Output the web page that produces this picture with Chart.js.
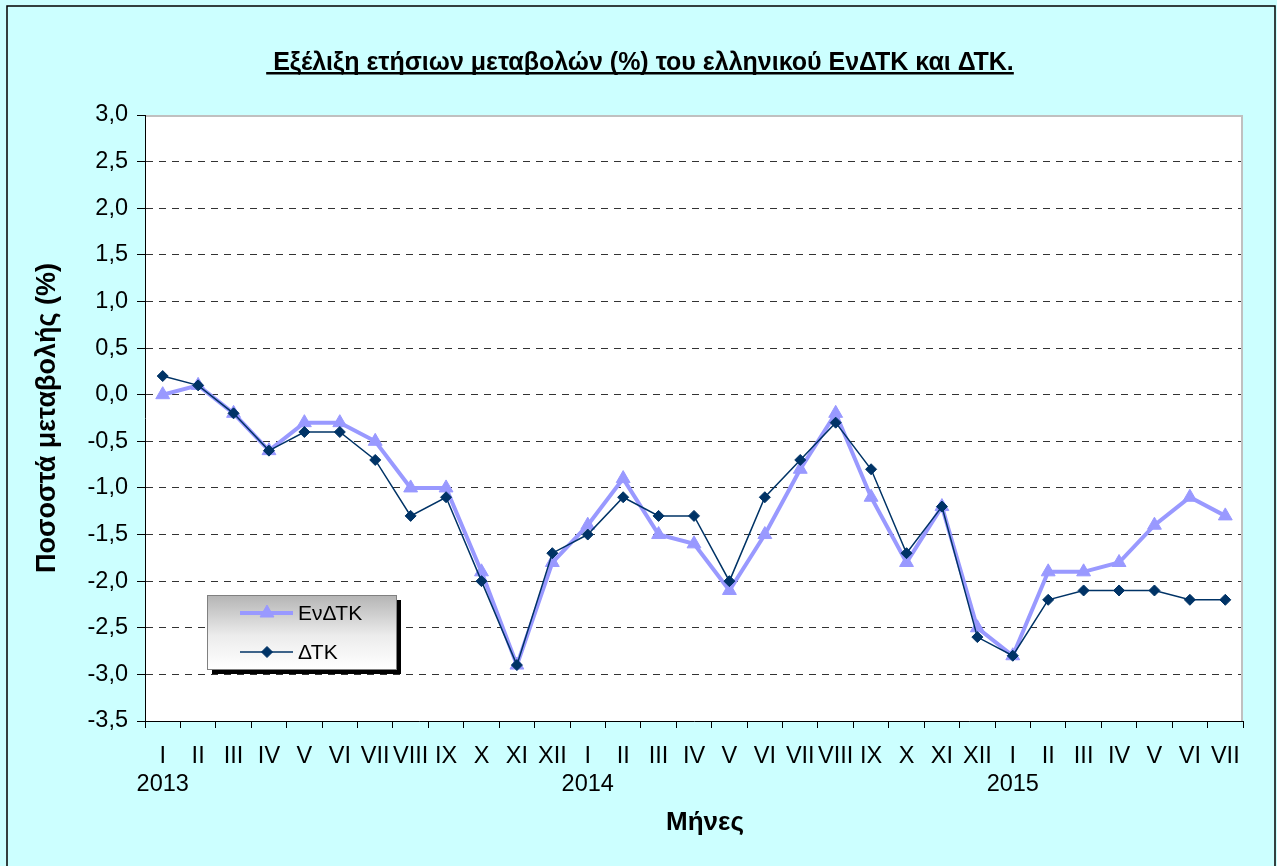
<!DOCTYPE html>
<html>
<head>
<meta charset="utf-8">
<script src="https://cdn.jsdelivr.net/npm/chart.js@4"></script>
<style>
    html, body { margin: 0; padding: 0; background: #ccffff; overflow: hidden; }
    canvas { display: block; }
</style>
</head>
<body>
<canvas id="chart" width="1277" height="866"></canvas>
<script>
// Categories: months I 2013 .. VII 2015
const monthLabels = [
    'I', 'II', 'III', 'IV', 'V', 'VI', 'VII', 'VIII', 'IX', 'X', 'XI', 'XII',
    'I', 'II', 'III', 'IV', 'V', 'VI', 'VII', 'VIII', 'IX', 'X', 'XI', 'XII',
    'I', 'II', 'III', 'IV', 'V', 'VI', 'VII'
];
const yearLabels = ['2013', '2014', '2015'];
const yearStartIndex = [0, 12, 24];

// Annual % change
const hicpValues = [
    0.0, 0.1, -0.2, -0.6, -0.3, -0.3, -0.5, -1.0, -1.0, -1.9, -2.9, -1.8,
    -1.4, -0.9, -1.5, -1.6, -2.1, -1.5, -0.8, -0.2, -1.1, -1.8, -1.2, -2.5,
    -2.8, -1.9, -1.9, -1.8, -1.4, -1.1, -1.3
];
const cpiValues = [
    0.2, 0.1, -0.2, -0.6, -0.4, -0.4, -0.7, -1.3, -1.1, -2.0, -2.9, -1.7,
    -1.5, -1.1, -1.3, -1.3, -2.0, -1.1, -0.7, -0.3, -0.8, -1.7, -1.2, -2.6,
    -2.8, -2.2, -2.1, -2.1, -2.1, -2.2, -2.2
];

const yMin = -3.5;
const yMax = 3.0;
const yStep = 0.5;

const FONT = '"Liberation Sans", Arial, sans-serif';

const labels = monthLabels.map(function (m, i) {
    var k = yearStartIndex.indexOf(i);
    return k >= 0 ? [m, yearLabels[k]] : m;
});

function fmt(v) {
    var r = Math.round(v * 10) / 10;
    if (r === 0) r = 0;
    return r.toFixed(1).replace('.', ',');
}

// Background, outer frame, white plot area, titles
const framePlugin = {
    id: 'frame',
    beforeDraw: function (chart) {
        const ctx = chart.ctx;
        const a = chart.chartArea;
        ctx.save();
        ctx.fillStyle = '#ccffff';
        ctx.fillRect(0, 0, chart.width, chart.height);
        ctx.strokeStyle = '#000';
        ctx.lineWidth = 1.5;
        ctx.strokeRect(7, 6, 1268, 866);
        ctx.fillStyle = '#fff';
        ctx.fillRect(a.left, a.top, a.right - a.left, a.bottom - a.top);

        // main title, underlined
        const title = ' Εξέλιξη ετήσιων μεταβολών (%) του ελληνικού ΕνΔΤΚ και ΔΤΚ.';
        ctx.font = 'bold 25px ' + FONT;
        ctx.fillStyle = '#000';
        ctx.textBaseline = 'alphabetic';
        const w = ctx.measureText(title).width;
        const tx = 640 - w / 2;
        ctx.fillText(title, tx, 70);
        ctx.fillRect(tx, 72, w, 2.5);

        // axis titles
        ctx.font = 'bold 26px ' + FONT;
        ctx.textAlign = 'center';
        ctx.textBaseline = 'middle';
        ctx.fillText('Μήνες', 705, 823);
        ctx.font = 'bold 27px ' + FONT;
        ctx.translate(48, 418);
        ctx.rotate(-Math.PI / 2);
        ctx.fillText('Ποσοστά μεταβολής (%)', 0, 0);
        ctx.restore();
    },
    beforeDatasetsDraw: function (chart) {
        const ctx = chart.ctx;
        const a = chart.chartArea;
        ctx.save();
        ctx.strokeStyle = '#c0c0c0';
        ctx.lineWidth = 2;
        ctx.beginPath();
        ctx.moveTo(a.left + 1, a.top + 1);
        ctx.lineTo(a.right - 1, a.top + 1);
        ctx.lineTo(a.right - 1, a.bottom);
        ctx.stroke();
        ctx.restore();
    }
};

// Boxed legend with shadow and grey gradient, inside the plot
const boxLegendPlugin = {
    id: 'boxLegend',
    afterDraw: function (chart) {
        const ctx = chart.ctx;
        const x = 207, y = 595, w = 189, h = 74;
        ctx.save();
        ctx.fillStyle = '#000';
        ctx.fillRect(x + 5, y + 5, w, h);
        const g = ctx.createLinearGradient(0, y, 0, y + h);
        g.addColorStop(0, '#b4b4b4');
        g.addColorStop(0.55, '#ececec');
        g.addColorStop(1, '#ffffff');
        ctx.fillStyle = g;
        ctx.fillRect(x, y, w, h);
        ctx.strokeStyle = '#808080';
        ctx.lineWidth = 1;
        ctx.strokeRect(x + 0.5, y + 0.5, w, h);

        const rows = [chart.data.datasets[1], chart.data.datasets[0]];
        const rowY = [613, 652];
        rows.forEach(function (ds, i) {
            const cy = rowY[i];
            ctx.strokeStyle = ds.borderColor;
            ctx.lineWidth = ds.borderWidth;
            ctx.beginPath();
            ctx.moveTo(240, cy);
            ctx.lineTo(293, cy);
            ctx.stroke();
            ctx.fillStyle = ds.pointBackgroundColor;
            ctx.strokeStyle = ds.pointBorderColor;
            ctx.lineWidth = ds.pointBorderWidth;
            Chart.helpers.drawPoint(ctx, {
                pointStyle: ds.pointStyle,
                radius: ds.pointRadius,
                borderWidth: ds.pointBorderWidth,
                rotation: 0
            }, 267, cy);
            ctx.font = '21px ' + FONT;
            ctx.fillStyle = '#000';
            ctx.textAlign = 'left';
            ctx.textBaseline = 'middle';
            ctx.fillText(ds.label, 298, cy + 1);
        });
        ctx.restore();
    }
};

const chart = new Chart(document.getElementById('chart'), {
    type: 'line',
    data: {
        labels: labels,
        datasets: [
            {
                label: 'ΔΤΚ',
                data: cpiValues,
                order: 0,
                borderColor: '#003366',
                borderWidth: 1.5,
                pointStyle: 'rectRot',
                pointRadius: 5.5,
                pointBackgroundColor: '#003366',
                pointBorderColor: '#003366',
                pointBorderWidth: 1,
                tension: 0
            },
            {
                label: 'ΕνΔΤΚ',
                data: hicpValues,
                order: 1,
                borderColor: '#9999ff',
                borderWidth: 4,
                pointStyle: 'triangle',
                pointRadius: 8,
                pointBackgroundColor: '#9999ff',
                pointBorderColor: '#9999ff',
                pointBorderWidth: 1,
                tension: 0
            }
        ]
    },
    options: {
        responsive: false,
        animation: false,
        devicePixelRatio: 1,
        layout: { padding: { left: 0, top: 115, right: 34, bottom: 0 } },
        plugins: {
            legend: { display: false },
            title: { display: false },
            tooltip: { enabled: false }
        },
        scales: {
            x: {
                offset: true,
                afterFit: function (scale) { scale.height = 145; },
                grid: {
                    offset: true,
                    drawOnChartArea: false,
                    drawTicks: true,
                    tickLength: 7,
                    tickColor: '#000',
                    tickWidth: 1
                },
                border: { display: true, color: '#000', width: 1 },
                ticks: {
                    autoSkip: false,
                    maxRotation: 0,
                    minRotation: 0,
                    padding: 14,
                    color: '#000',
                    font: { family: FONT, size: 23.5, lineHeight: 1.21 }
                }
            },
            y: {
                min: yMin,
                max: yMax,
                afterFit: function (scale) { scale.width = 145; },
                grid: {
                    color: function (c) {
                        return (c.tick && (c.tick.value === yMax || c.tick.value === yMin)) ? 'rgba(0,0,0,0)' : '#333';
                    },
                    lineWidth: 1,
                    drawTicks: true,
                    tickLength: 8,
                    tickColor: '#000',
                    tickWidth: 1
                },
                border: { display: true, color: '#000', width: 1, dash: [7, 6] },
                ticks: {
                    stepSize: yStep,
                    padding: 9,
                    color: '#000',
                    font: { family: FONT, size: 23.5 },
                    callback: function (v) { return fmt(v); }
                }
            }
        }
    },
    plugins: [framePlugin, boxLegendPlugin]
});
</script>
</body>
</html>
